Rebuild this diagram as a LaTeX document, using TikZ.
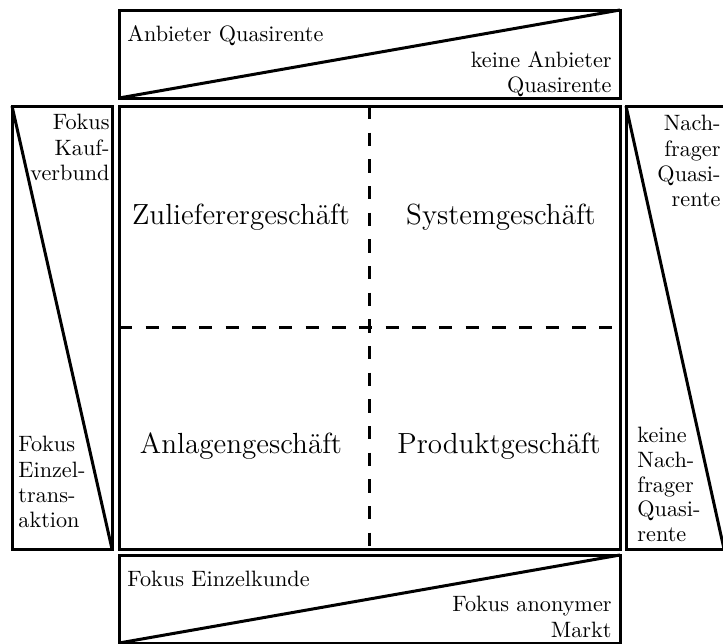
\documentclass[tikz,border=0pt]{standalone}
\usetikzlibrary{fit}
\begin{document}
\begin{tikzpicture}[x=0.45pt,y=-0.45pt,
  panel/.style={draw, line width=1.35pt, inner sep=0pt, outer sep=0pt},
  cut/.style={line width=1.35pt},
  split/.style={line width=1.35pt, dash pattern=on 6pt off 6pt},
  quad/.style={font=\fontsize{13.1}{15}\selectfont, anchor=base, inner sep=0pt},
  lab/.style={font=\fontsize{10}{11.4}\selectfont, inner sep=0pt},
]
\useasboundingbox (0,0) rectangle (723,643);

% central matrix and the four wedge panels around it
\node[panel, fit={(119,106) (620,549)}] (main) {};
\node[panel, fit={(119,10) (620,98)}] (top) {};
\node[panel, fit={(119,555) (620,643)}] (bottom) {};
\node[panel, fit={(12,106) (112,549)}] (left) {};
\node[panel, fit={(626,106) (724,549)}] (right) {};

% diagonals of the wedges
\draw[cut] (top.south west) -- (top.north east);
\draw[cut] (bottom.south west) -- (bottom.north east);
\draw[cut] (left.north west) -- (left.south east);
\draw[cut] (right.north west) -- (right.south east);

% quadrant separators
\draw[split] (main.north) -- (main.south);
\draw[split] (main.west) -- (main.east);

% quadrant names
\node[quad] (q1) at (241,224) {Zulieferergeschäft};
\node[quad] (q2) at (501,224) {Systemgeschäft};
\node[quad] (q3) at (241,453) {Anlagengeschäft};
\node[quad] (q4) at (499,453) {Produktgeschäft};

% wedge labels
\node[lab, anchor=north west] (t1) at (127,25) {Anbieter Quasirente};
\node[lab, anchor=north east, align=right] (t2) at (612,51) {keine Anbieter\\Quasirente};
\node[lab, anchor=north west] (b1) at (127,571) {Fokus Einzelkunde};
\node[lab, anchor=north east, align=right] (b2) at (612,596) {Fokus anonymer\\Markt};
\node[lab, anchor=north east, align=right] (l1) at (110,114) {Fokus\\Kauf-\\verbund};
\node[lab, anchor=north west, align=left] (l2) at (18,436) {Fokus\\Einzel-\\trans-\\aktion};
\node[lab, anchor=north east, align=right] (r1) at (721,115) {Nach-\\frager\\Quasi-\\rente};
\node[lab, anchor=north west, align=left, font=\fontsize{10}{11.1}\selectfont] (r2) at (637,427) {keine\\Nach-\\frager\\Quasi-\\rente};
\end{tikzpicture}
\end{document}
